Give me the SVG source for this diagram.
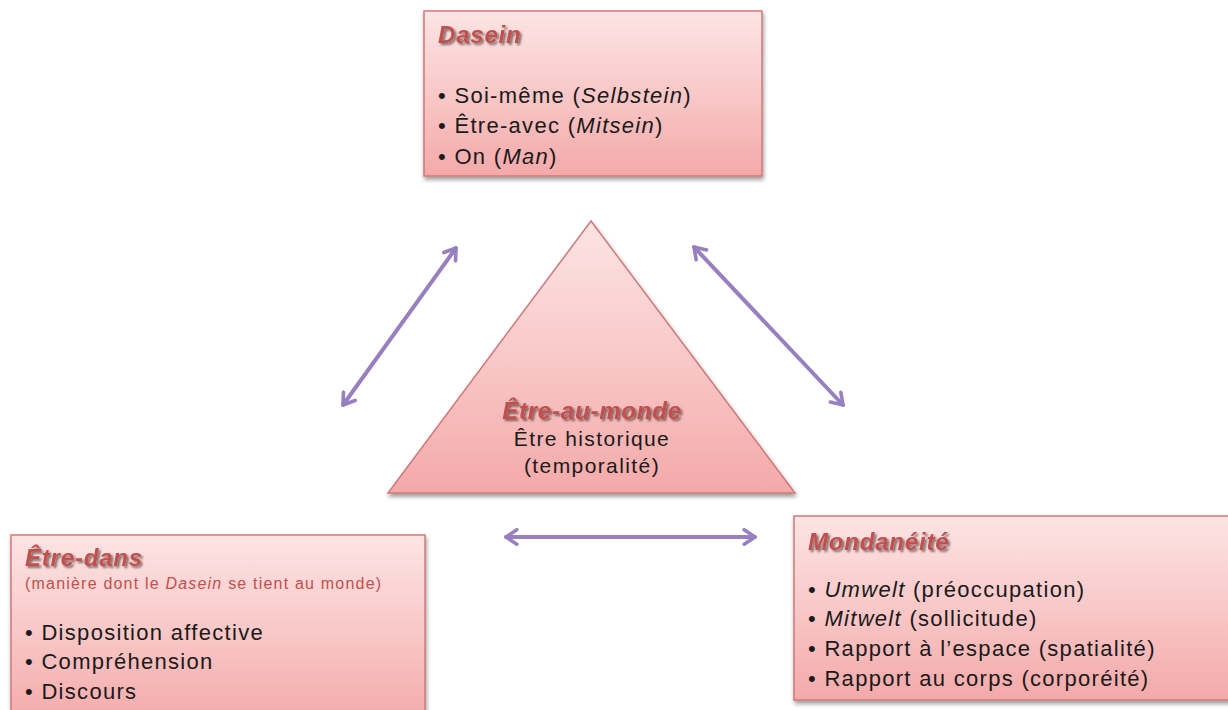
<svg xmlns="http://www.w3.org/2000/svg" width="1228" height="710" viewBox="0 0 1228 710">
<defs>
<linearGradient id="g" x1="0" y1="0" x2="0" y2="1">
<stop offset="0" stop-color="#fde4e4"/>
<stop offset="0.5" stop-color="#f9c8c8"/>
<stop offset="1" stop-color="#f4a9a9"/>
</linearGradient>
<filter id="sh" x="-10%" y="-10%" width="125%" height="130%">
<feGaussianBlur in="SourceAlpha" stdDeviation="2"/>
<feOffset dx="1" dy="3" result="b"/>
<feComponentTransfer><feFuncA type="linear" slope="0.4"/></feComponentTransfer>
<feMerge><feMergeNode/><feMergeNode in="SourceGraphic"/></feMerge>
</filter>
<filter id="tsh" x="-10%" y="-20%" width="130%" height="150%">
<feGaussianBlur in="SourceAlpha" stdDeviation="0.8"/>
<feOffset dx="1.5" dy="1.5"/>
<feComponentTransfer><feFuncA type="linear" slope="0.5"/></feComponentTransfer>
<feMerge><feMergeNode/><feMergeNode in="SourceGraphic"/></feMerge>
</filter>
<marker id="ah" viewBox="0 0 10 10" refX="7" refY="5" markerWidth="4.5" markerHeight="4.5" orient="auto-start-reverse">
<path d="M1,1 L7,5 L1,9" fill="none" stroke="#9880c0" stroke-width="2" stroke-linecap="round" stroke-linejoin="round"/>
</marker>
</defs>
<style>
.box{fill:url(#g);stroke:#d07878;stroke-width:1.5;filter:url(#sh)}
.t{font-family:"Liberation Sans",Arial,sans-serif;fill:#1a1a1a}
.title{font-family:"Liberation Sans",Arial,sans-serif;font-weight:bold;font-style:italic;fill:#c0504d;filter:url(#tsh);font-size:24px;letter-spacing:0.8px}
.b{font-size:22px;letter-spacing:1.3px}
.sub{font-size:16px;letter-spacing:1.2px;fill:#c0504d}
.tri{font-size:21px;letter-spacing:1.4px}
.conn{stroke:#9880c0;stroke-width:4;fill:none;stroke-linecap:round;marker-start:url(#ah);marker-end:url(#ah)}
</style>
<rect width="1228" height="710" fill="#ffffff"/>
<g id="connectors">
<line class="conn" x1="343" y1="405" x2="456" y2="248"/>
<line class="conn" x1="694" y1="247" x2="843" y2="405"/>
<line class="conn" x1="506" y1="537" x2="755" y2="537"/>
</g>
<g id="dasein">
<rect class="box" x="424" y="11" width="338" height="165"/>
<text class="title" x="438" y="43">Dasein</text>
<text class="t b" x="438" y="103">• Soi-même (<tspan font-style="italic">Selbstein</tspan>)</text>
<text class="t b" x="438" y="133">• Être-avec (<tspan font-style="italic">Mitsein</tspan>)</text>
<text class="t b" x="438" y="164">• On (<tspan font-style="italic">Man</tspan>)</text>
</g>
<g id="etre-au-monde">
<polygon class="box" points="591,221 795,493 388,493"/>
<text class="title" x="592" y="419" text-anchor="middle">Être-au-monde</text>
<text class="t tri" x="592" y="446" text-anchor="middle">Être historique</text>
<text class="t tri" x="592" y="473" text-anchor="middle">(temporalité)</text>
</g>
<g id="etre-dans">
<rect class="box" x="11" y="535" width="414" height="190"/>
<text class="title" x="25" y="566">Être-dans</text>
<text class="t sub" x="25" y="589">(manière dont le <tspan font-style="italic">Dasein</tspan> se tient au monde)</text>
<text class="t b" x="25" y="640">• Disposition affective</text>
<text class="t b" x="25" y="669">• Compréhension</text>
<text class="t b" x="25" y="699">• Discours</text>
</g>
<g id="mondaneite">
<rect class="box" x="794" y="516" width="450" height="184"/>
<text class="title" x="808" y="550">Mondanéité</text>
<text class="t b" x="808" y="597">• <tspan font-style="italic">Umwelt</tspan> (préoccupation)</text>
<text class="t b" x="808" y="626">• <tspan font-style="italic">Mitwelt</tspan> (sollicitude)</text>
<text class="t b" x="808" y="656">• Rapport à l’espace (spatialité)</text>
<text class="t b" x="808" y="686">• Rapport au corps (corporéité)</text>
</g>
</svg>
